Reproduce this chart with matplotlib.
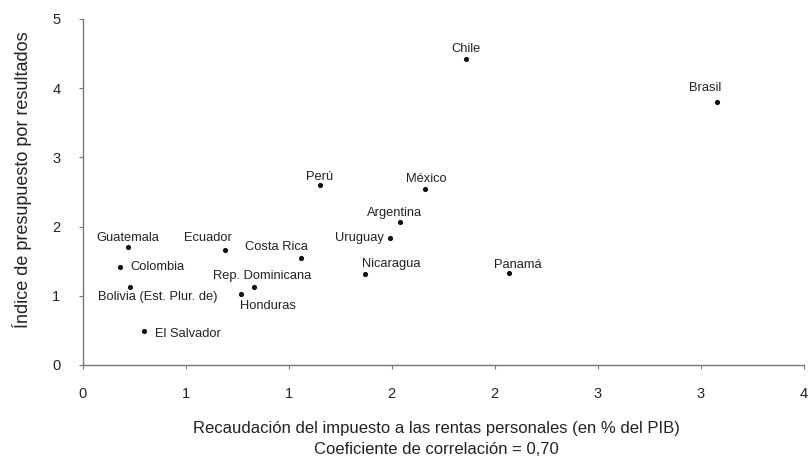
import matplotlib
matplotlib.use("Agg")
import matplotlib.pyplot as plt

plt.rcParams['font.family'] = ['Liberation Sans', 'DejaVu Sans']

countries = ["Chile", "Brasil", "Perú", "México", "Argentina", "Uruguay",
             "Panamá", "Nicaragua", "Costa Rica", "Ecuador", "Guatemala",
             "Colombia", "Bolivia (Est. Plur. de)", "Rep. Dominicana",
             "Honduras", "El Salvador"]
renta_personal = [1.86, 3.08, 1.15, 1.66, 1.54, 1.49, 2.07, 1.37, 1.06,
                  0.69, 0.22, 0.18, 0.23, 0.83, 0.77, 0.30]
indice_ppr = [4.42, 3.80, 2.60, 2.54, 2.07, 1.83, 1.33, 1.32, 1.55,
              1.66, 1.70, 1.41, 1.12, 1.13, 1.02, 0.49]

x_ticks = [0, 0.5, 1.0, 1.5, 2.0, 2.5, 3.0, 3.5]
x_tick_labels = ["0", "1", "1", "2", "2", "3", "3", "4"]
y_ticks = [0, 1, 2, 3, 4, 5]

# label placement: (dx, dy) offset in points, horizontal alignment
label_pos = {
    "Chile": (0, 7, "center"),
    "Brasil": (-9, 10, "center"),
    "Perú": (0, 6, "center"),
    "México": (1, 7, "center"),
    "Argentina": (-4, 6, "center"),
    "Uruguay": (-4, 0, "right"),
    "Panamá": (6, 6, "center"),
    "Nicaragua": (-2, 7, "left"),
    "Costa Rica": (-18, 8, "center"),
    "Ecuador": (-12, 9, "center"),
    "Guatemala": (0, 7, "center"),
    "Colombia": (8, 0, "left"),
    "Bolivia (Est. Plur. de)": (20, -7, "center"),
    "Rep. Dominicana": (6, 7.5, "center"),
    "Honduras": (-1, -8.5, "left"),
    "El Salvador": (8, -2, "left"),
}

fig = plt.figure(figsize=(8.10, 4.58), dpi=100)
ax = fig.add_axes([0.1019, 0.2031, 0.8907, 0.7555])

ax.plot(renta_personal, indice_ppr, linestyle="none", marker="o",
        markersize=2.7, color="#111111")

for name, xv, yv in zip(countries, renta_personal, indice_ppr):
    dx, dy, ha = label_pos[name]
    ax.annotate(name, (xv, yv), xytext=(dx, dy), textcoords="offset points",
                ha=ha, va="center", fontsize=9.3, color="#222222")

ax.set_xlim(0, 3.5)
ax.set_ylim(0, 5)
ax.set_xticks(x_ticks)
ax.set_xticklabels(x_tick_labels)
ax.set_yticks(y_ticks)

for side in ("top", "right"):
    ax.spines[side].set_visible(False)
for side in ("left", "bottom"):
    ax.spines[side].set_color("#777777")
    ax.spines[side].set_linewidth(1.0)

ax.tick_params(axis="both", direction="out", length=3, width=0.8,
               color="#777777", labelsize=10.5, labelcolor="#222222")
ax.tick_params(axis="x", pad=13)
ax.tick_params(axis="y", pad=13)

title_kw = dict(ha="center", va="center", fontsize=12, color="#222222")
fig.text(436 / 810, 1 - 429 / 458,
         "Recaudación del impuesto a las rentas personales (en % del PIB)",
         **title_kw)
fig.text(436 / 810, 1 - 449 / 458, "Coeficiente de correlación = 0,70",
         **title_kw)
fig.text(22 / 810, 1 - 180 / 458, "Índice de presupuesto por resultados",
         rotation=90, **dict(title_kw, fontsize=13))

fig.savefig("out.png", dpi=100, facecolor="white")
